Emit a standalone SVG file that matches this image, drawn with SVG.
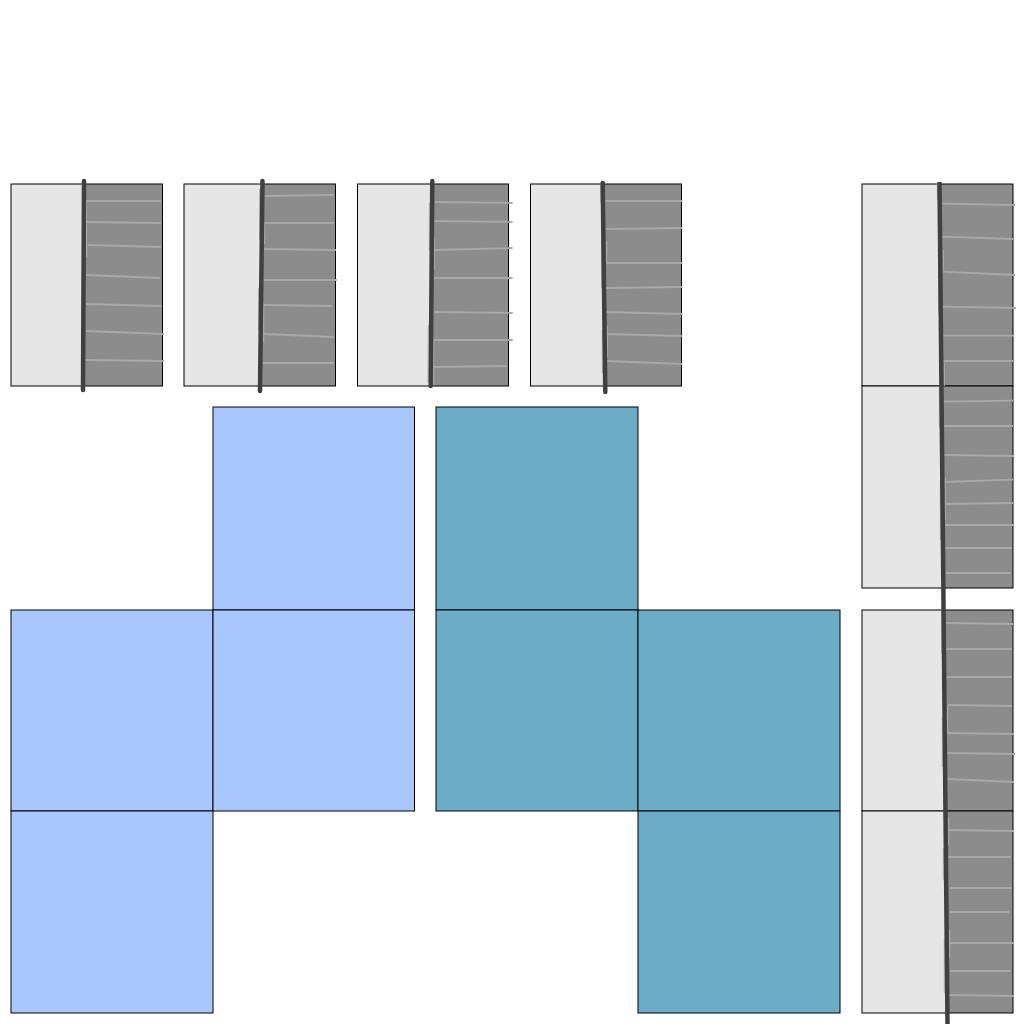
<svg xmlns="http://www.w3.org/2000/svg" width="1024" height="1024" viewBox="0 0 1024 1024">
<style>
.l{fill:#e6e6e6}
.d{fill:#8c8c8c}
.o{fill:none;stroke:#000;stroke-width:1}
.b{fill:#aac6ff;stroke:#000;stroke-width:1}
.t{fill:#6cacc6;stroke:#000;stroke-width:1}
.k{fill:none;stroke:#a8a8a8;stroke-width:1.8}
.n{fill:none;stroke:#b0b0b0;stroke-width:1}
.m{fill:none;stroke:#404040;stroke-width:4.5;stroke-linecap:round}
.m2{fill:none;stroke:#404040;stroke-width:4.5}
</style>
<rect width="1024" height="1024" fill="#fff"/>
<g id="blue-net">
<rect class="b" x="213" y="407" width="201.500" height="203"/>
<rect class="b" x="11" y="610" width="202" height="201"/>
<rect class="b" x="213" y="610" width="201.500" height="201"/>
<rect class="b" x="11" y="811" width="202" height="202"/>
</g>
<g id="teal-net">
<rect class="t" x="436" y="407" width="202" height="203"/>
<rect class="t" x="436" y="610" width="202" height="201"/>
<rect class="t" x="638" y="610" width="202" height="201"/>
<rect class="t" x="638" y="811" width="202" height="202"/>
</g>
<g id="panel-1">
<rect class="l" x="11" y="184" width="151" height="202"/>
<polygon class="d" points="84,184 162,184 162,386 83,386"/>
<rect class="o" x="11" y="184" width="151.500" height="202"/>
<path class="k" d="M86 201L161 201M86 222L161 223M88 245L161 247M86 275L160 278M86 304L161 306M86 331L164 334M85 360L164 361"/>
<path class="n" d="M86.300 200L86.700 257"/>
<path class="m" d="M84 181L83 390"/>
</g>
<g id="panel-2">
<rect class="l" x="184" y="184" width="151" height="202"/>
<polygon class="d" points="262,184 335,184 335,386 260,386"/>
<rect class="o" x="184" y="184" width="151.500" height="202"/>
<path class="k" d="M264 196L334 195M263 223L334 223M263 249L336 250M263 280L337 280M264 305L332 306M264 334L334 337M262 363L334 363"/>
<path class="n" d="M259.500 189L259.500 240M264.700 223L264.700 244M258.500 288L258.500 330M263.700 303L263.700 342"/>
<path class="m" d="M262.500 181L260 391"/>
</g>
<g id="panel-3">
<rect class="l" x="357" y="184" width="151" height="202"/>
<polygon class="d" points="432,184 508,184 508,386 431,386"/>
<rect class="o" x="357.500" y="184" width="151" height="202"/>
<path class="k" d="M435 202L512.700 203M433.300 221L512.700 222M433 250L512.700 248M433.300 278L512.700 278M432.700 312L512.700 313M434 340L512.700 340M432.700 367L506.700 366"/>
<path class="n" d="M429.300 203L429.300 250M434.300 237L434.300 270M428.300 325L428 383M433.700 340L433.700 385"/>
<path class="m" d="M432.300 181L430.700 386"/>
</g>
<g id="panel-4">
<rect class="l" x="530" y="184" width="152" height="202"/>
<polygon class="d" points="603,184 682,184 682,386 605,386"/>
<rect class="o" x="530.500" y="184" width="151" height="202"/>
<path class="k" d="M604 201L682.300 201M605.300 229L682.300 228M606.700 263L682.300 263M605.300 288L682.300 287M605.700 312L682.300 314M605.700 334L682.300 336M606.700 361L682.300 364"/>
<path class="n" d="M600.700 182L600.700 203M606.700 241L606.700 263M601.700 240L601.700 288M607.300 326L607.300 357M602.300 330L602.300 373"/>
<path class="m" d="M602.700 183L605.300 392"/>
</g>
<g id="panel-5">
<rect class="l" x="862" y="184" width="151" height="202"/>
<polygon class="d" points="940,184 1013,184 1013,386 942,386"/>
<rect class="o" x="862" y="184" width="151" height="202"/>
</g>
<g id="panel-6">
<rect class="l" x="862" y="386" width="151" height="202"/>
<polygon class="d" points="942,386 1013,386 1013,588 944,588"/>
<rect class="o" x="862" y="386" width="151" height="202"/>
</g>
<g id="panel-7">
<rect class="l" x="862" y="610" width="151" height="201"/>
<polygon class="d" points="944,610 1013,610 1013,811 946,811"/>
<rect class="o" x="862" y="610" width="151" height="201"/>
</g>
<g id="panel-8">
<rect class="l" x="862" y="811" width="151" height="202"/>
<polygon class="d" points="946,811 1013,811 1013,1013 948,1013"/>
<rect class="o" x="862" y="811" width="151" height="202"/>
</g>
<g id="column-ticks">
<path class="k" d="M941.700 203.700L1015 205M942.300 236.700L1013 239M941 271.700L1015 275M940 306.700L1016 308M942 335.700L1014 335.700M942 361L1013 361"/>
<path class="n" d="M937.300 183L937.300 200M943.300 250L943.300 270M938.700 270L938.700 313M944.300 362.700L944.300 386"/>
<path class="k" d="M942.700 401.700L1013 400.700M943.300 426L1013 426M943.700 455L1014 456M943.700 482L1013 479.700M943.700 504L1013 503M944.300 525L1014 525M944.300 548L1012 548M945.300 573L1011 573"/>
<path class="n" d="M939.300 386L939.300 427M945.300 477L945.300 520M940.300 480L940.300 540"/>
<path class="k" d="M945 623L1013 624M944 649L1012 649M945 677L1012 677M948 705L1012 706M946.300 733L1014 734M946 753L1015 754M946.700 779L1014 782"/>
<path class="n" d="M941.700 610L941.700 653M947.700 705L947.300 733M942.300 717L942.300 767"/>
<path class="k" d="M946.700 830L1014 831M947.300 857L1011 857M950 888L1012 888M950 912L1009 912M948 943L1014 943M950 971L1011 971M948.700 995L1014 996"/>
<path class="n" d="M948.700 817L948.700 845M943.300 848L943.300 880M949.700 930L949.700 958M944.300 938L944.300 993"/>
</g>
<g id="column-line">
<path class="m2" d="M939.500 182L947.500 1024"/>
</g>
</svg>
